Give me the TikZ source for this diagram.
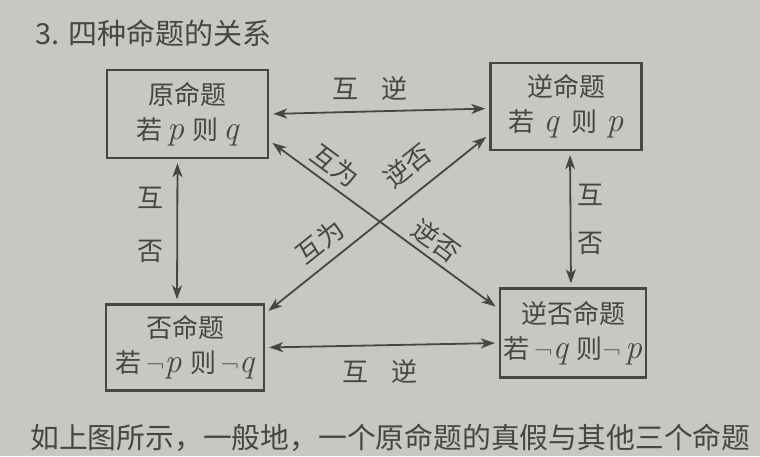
\documentclass[tikz,border=0pt]{standalone}
\usepackage{fontspec}
\newfontfamily\cjk{Noto Sans CJK SC}
\usetikzlibrary{arrows.meta}
\definecolor{bg}{RGB}{198,200,193}
\definecolor{ink}{RGB}{70,70,70}
\newcommand\myvar[1]{{\rmfamily\itshape\fontsize{17}{17}\selectfont #1}}
\newcommand\mynot{{\rmfamily\fontsize{12}{12}\selectfont ¬}}
\begin{document}
\begin{tikzpicture}[x=0.5pt,y=-0.5pt,
  box/.style={draw=ink, line width=1.2pt, rectangle, inner sep=0pt, align=center, text=ink,
    font=\cjk\fontsize{13}{17.5}\selectfont},
  arr/.style={draw=ink, line width=0.9pt,
    {Stealth[length=7pt,width=5pt,inset=2pt]}-{Stealth[length=7pt,width=5pt,inset=2pt]},
    shorten >=2pt, shorten <=2pt},
  lbl/.style={text=ink, font=\cjk\fontsize{13}{15}\selectfont, inner sep=0pt},
  txt/.style={text=ink, inner sep=0pt, anchor=west}]
\fill[bg] (0,0) rectangle (760,456);
\useasboundingbox (0,0) rectangle (760,456);

\node[txt, font=\cjk\fontsize{14.5}{16}\selectfont] (title) at (35,33) {3. 四种命题的关系};

\node[box, minimum width=80.5pt, minimum height=44pt] (b1) at (187.5,114) {原命题\\若\,\myvar{p}\,\,则\,\myvar{q}};
\node[box, minimum width=75.5pt, minimum height=43.5pt] (b2) at (566,106.5) {逆命题\\若\,\,\myvar{q}\,\,\,则\,\,\myvar{p}};
\node[box, minimum width=79pt, minimum height=43pt] (b3) at (185,347.5) {否命题\\若\,\mynot\myvar{p}\,\,则\,\mynot\myvar{q}};
\node[box, minimum width=73pt, minimum height=44.5pt] (b4) at (573,333) {逆否命题\\若\,\mynot\myvar{q}\,\,则\mynot\,\myvar{p}};

% horizontal
\draw[arr] (b1.east) -- ([yshift=-1pt]b2.west);
\draw[arr] (b3.east) -- ([yshift=-5pt]b4.west);
\node[lbl] (t1) at (370,88) {互\hspace{0.9em}逆};
\node[lbl] (t2) at (380,371) {互\hspace{0.9em}逆};

% vertical
\draw[arr] ([xshift=-5pt]b1.south) -- ([xshift=-4pt]b3.north);
\draw[arr] ([xshift=2pt]b2.south) -- ([xshift=-1pt]b4.north);
\node[lbl] (l1) at (150,198) {互};
\node[lbl] (l2) at (150,251) {否};
\node[lbl] (r1) at (590,195) {互};
\node[lbl] (r2) at (590,243) {否};

% diagonals
\draw[arr] (b1.-18) -- node[lbl, pos=0.24, above=3pt, sloped] (d1) {互为}
                      node[lbl, pos=0.68, above=2.5pt, sloped] (d2) {逆否} (b4.162);
\draw[arr] (b3.23) -- node[lbl, pos=0.305, above=4.5pt, sloped] (d3) {互为}
                     node[lbl, pos=0.71, above=7pt, sloped] (d4) {逆否} (b2.200);

\node[txt, font=\cjk\fontsize{14.4}{17}\selectfont] (body) at (30,438) {如上图所示，一般地，一个原命题的真假与其他三个命题};
\end{tikzpicture}
\end{document}
